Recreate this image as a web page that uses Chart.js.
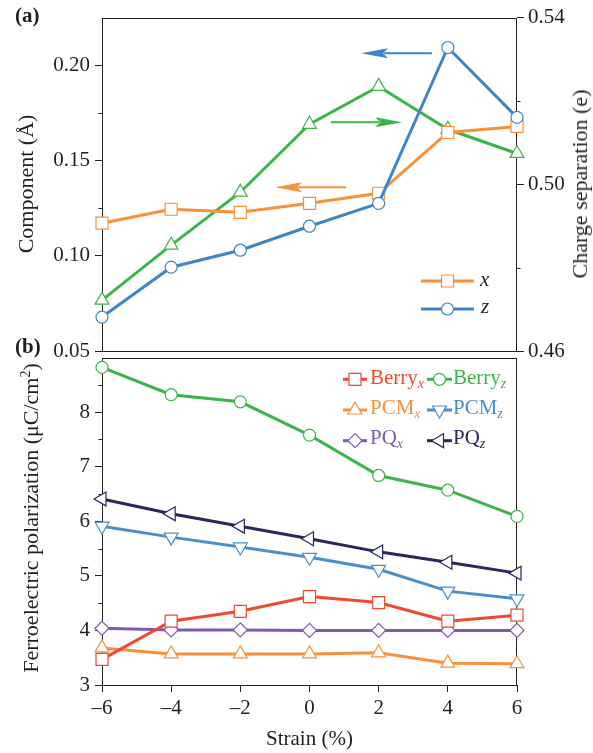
<!DOCTYPE html>
<html><head><meta charset="utf-8">
<script src="https://cdn.jsdelivr.net/npm/chart.js@4/dist/chart.umd.min.js"></script>
<style>
html,body{margin:0;padding:0;background:#fff;}
#wrap{position:relative;width:593px;height:753px;overflow:hidden;font-family:"Liberation Serif","Times New Roman",serif;color:#231f20;}
canvas{position:absolute;left:0;}
.t{position:absolute;white-space:nowrap;line-height:1;}
.rot{transform:translate(-50%,-50%) rotate(-90deg);}
.sub{font-style:italic;font-size:14px;position:relative;top:4px;}
.sup{font-size:14px;position:relative;top:-8px;}
</style></head>
<body><div id="wrap">
<canvas id="ca" width="593" height="380" style="top:0"></canvas>
<canvas id="cb" width="593" height="413" style="top:340px"></canvas>

<div class="t" style="left:15px;top:5px;font-weight:bold;font-size:21px">(a)</div>
<div class="t" style="left:15px;top:336px;font-weight:bold;font-size:21px">(b)</div>
<div class="t rot" style="left:26px;top:184px;font-size:22px">Component (Å)</div>
<div class="t rot" style="left:580px;top:184px;font-size:22px">Charge separation (e)</div>
<div class="t rot" style="left:31px;top:518px;font-size:22px">Ferroelectric polarization (μC/cm<span class="sup">2</span>)</div>
<div class="t" style="left:309.5px;top:728px;font-size:21px;transform:translateX(-50%)">Strain (%)</div>

<div class="t" style="left:480px;top:269px;font-size:21px;font-style:italic">x</div>
<div class="t" style="left:481px;top:296px;font-size:21px;font-style:italic">z</div>

<div class="t" style="left:370px;top:367px;font-size:21px;color:#EF4A2F">Berry<span class="sub">x</span></div>
<div class="t" style="left:453px;top:367px;font-size:21px;color:#3BB54A">Berry<span class="sub">z</span></div>
<div class="t" style="left:370px;top:397px;font-size:21px;color:#F7923A">PCM<span class="sub">x</span></div>
<div class="t" style="left:453px;top:397px;font-size:21px;color:#4B8ECC">PCM<span class="sub">z</span></div>
<div class="t" style="left:370px;top:427px;font-size:21px;color:#7E5BB0">PQ<span class="sub">x</span></div>
<div class="t" style="left:453px;top:427px;font-size:21px;color:#26285E">PQ<span class="sub">z</span></div>
</div>
<script>
// ---------- data ----------
const strain = [-6, -4, -2, 0, 2, 4, 6];
const compX = [0.1171, 0.1244, 0.1228, 0.1275, 0.1328, 0.1647, 0.1679];
const compZ = [0.0678, 0.0940, 0.1029, 0.1155, 0.1275, 0.2093, 0.1726];
const chargeSep = [0.4722, 0.4854, 0.4981, 0.5144, 0.5235, 0.5132, 0.5074];
const berryX = [3.47, 4.17, 4.35, 4.62, 4.51, 4.17, 4.28];
const berryZ = [8.82, 8.32, 8.19, 7.58, 6.84, 6.57, 6.09];
const pcmX = [3.68, 3.57, 3.57, 3.57, 3.59, 3.40, 3.39];
const pcmZ = [5.91, 5.71, 5.53, 5.34, 5.12, 4.72, 4.58];
const pqX = [4.04, 4.01, 4.01, 4.00, 4.00, 4.00, 4.00];
const pqZ = [6.41, 6.14, 5.91, 5.68, 5.44, 5.25, 5.05];

const xTicks = [-6, -4, -2, 0, 2, 4, 6];
const compTicks = [0.05, 0.10, 0.15, 0.20];
const compMinor = [0.075, 0.125, 0.175];
const chargeTicks = [0.46, 0.50, 0.54];
const chargeMinor = [0.48, 0.52];
const polTicks = [3, 4, 5, 6, 7, 8];
const polMinor = [3.5, 4.5, 5.5, 6.5, 7.5, 8.5];

// ---------- style ----------
const FONT = "'Liberation Serif','Times New Roman',serif";
const INK = '#231f20';
const C = {orange:'#F7923A', blue:'#3D85C6', green:'#3BB54A', red:'#EF4A2F', purple:'#7E5BB0', navy:'#26285E', lblue:'#4B8ECC'};
const MK = {
  square:{style:'rect', r:8.5, rot:0},
  circle:{style:'circle', r:6, rot:0},
  up:{style:'triangle', r:8, rot:0},
  down:{style:'triangle', r:8, rot:180},
  left:{style:'triangle', r:8, rot:270},
  diamond:{style:'rectRot', r:7, rot:0}
};
Chart.defaults.font.family = FONT;
Chart.defaults.font.size = 21;
Chart.defaults.color = INK;

function ds(label, arr, color, mk, axis) {
  const m = MK[mk];
  return {
    label, data: strain.map((s, i) => ({x: s, y: arr[i]})),
    borderColor: color, backgroundColor: color, borderWidth: 3,
    pointStyle: m.style, pointRadius: m.r, pointRotation: m.rot,
    pointBackgroundColor: '#fff', pointBorderColor: color, pointBorderWidth: 1.2,
    pointHoverRadius: m.r, tension: 0, clip: false, yAxisID: axis || 'y'
  };
}

function drawMarker(ctx, mk, x, y, color) {
  const m = MK[mk], r = m.r;
  ctx.save();
  ctx.translate(x, y);
  ctx.rotate(m.rot * Math.PI / 180);
  ctx.beginPath();
  if (m.style === 'circle') ctx.arc(0, 0, r, 0, Math.PI * 2);
  else if (m.style === 'rect') { const s = r * Math.SQRT1_2; ctx.rect(-s, -s, 2 * s, 2 * s); }
  else if (m.style === 'rectRot') { ctx.moveTo(0, -r); ctx.lineTo(r, 0); ctx.lineTo(0, r); ctx.lineTo(-r, 0); ctx.closePath(); }
  else if (m.style === 'triangle') {
    for (let k = 0; k < 3; k++) { const a = k * 2 * Math.PI / 3; const px = Math.sin(a) * r, py = -Math.cos(a) * r; k ? ctx.lineTo(px, py) : ctx.moveTo(px, py); }
    ctx.closePath();
  }
  ctx.fillStyle = '#fff'; ctx.fill();
  ctx.lineWidth = 1.2; ctx.strokeStyle = color; ctx.stroke();
  ctx.restore();
}

const deco = {
  id: 'deco',
  beforeDatasetsDraw(chart, args, opts) {
    const ctx = chart.ctx, a = chart.chartArea;
    ctx.save();
    ctx.strokeStyle = INK; ctx.lineWidth = 1;
    ctx.strokeRect(Math.round(a.left) + 0.5, Math.round(a.top) + 0.5, Math.round(a.right - a.left) - 1, Math.round(a.bottom - a.top));
    (opts.minor || []).forEach(m => {
      const sc = chart.scales[m.axis];
      const left = m.side === 'left';
      const x0 = left ? Math.round(a.left) : Math.round(a.right) - 1;
      m.values.forEach(v => {
        const y = Math.round(sc.getPixelForValue(v)) + 0.5;
        ctx.beginPath(); ctx.moveTo(x0 + 0.5, y); ctx.lineTo(x0 + 0.5 + (left ? -4 : 4), y); ctx.stroke();
      });
    });
    ctx.restore();
  },
  afterDatasetsDraw(chart, args, opts) {
    const ctx = chart.ctx;
    ctx.save();
    (opts.arrows || []).forEach(ar => {
      const xs = chart.scales.x, ys = chart.scales[ar.axis];
      const x0 = xs.getPixelForValue(ar.from[0]), y0 = ys.getPixelForValue(ar.from[1]);
      const x1 = xs.getPixelForValue(ar.to[0]), y1 = ys.getPixelForValue(ar.to[1]);
      const len = Math.hypot(x1 - x0, y1 - y0), ux = (x1 - x0) / len, uy = (y1 - y0) / len;
      const hl = 27, hw = 5;
      const bx = x1 - ux * hl, by = y1 - uy * hl;
      ctx.strokeStyle = ar.color; ctx.fillStyle = ar.color; ctx.lineWidth = 2;
      ctx.beginPath(); ctx.moveTo(x0, y0); ctx.lineTo(bx + ux * 4, by + uy * 4); ctx.stroke();
      ctx.beginPath();
      ctx.moveTo(x1, y1);
      ctx.lineTo(bx - uy * hw, by + ux * hw);
      ctx.lineTo(bx + ux * 5, by + uy * 5);
      ctx.lineTo(bx + uy * hw, by - ux * hw);
      ctx.closePath(); ctx.fill();
    });
    (opts.legend || []).forEach(l => {
      ctx.strokeStyle = l.color; ctx.lineWidth = 3;
      ctx.beginPath(); ctx.moveTo(l.x0, l.y); ctx.lineTo(l.x1, l.y); ctx.stroke();
      drawMarker(ctx, l.mk, (l.x0 + l.x1) / 2, l.y, l.color);
    });
    ctx.restore();
  }
};

function fixTicks(values) { return scale => { scale.ticks = values.map(v => ({value: v})); }; }
const gridOpts = {display: true, drawOnChartArea: false, drawTicks: true, tickLength: 7, tickColor: INK, tickWidth: 1};

// ---------- top chart ----------
new Chart(document.getElementById('ca'), {
  type: 'line',
  data: {datasets: [
    ds('z', compZ, C.blue, 'circle', 'y'),
    ds('x', compX, C.orange, 'square', 'y'),
    ds('charge', chargeSep, C.green, 'up', 'y2')
  ]},
  options: {
    responsive: false, animation: false, devicePixelRatio: 1,
    layout: {padding: {top: 17, bottom: 29, left: 0, right: 0}},
    plugins: {
      legend: {display: false}, tooltip: {enabled: false},
      deco: {
        minor: [{axis: 'y', side: 'left', values: compMinor}, {axis: 'y2', side: 'right', values: chargeMinor}],
        arrows: [
          {from: [3.54, 0.2063], to: [1.49, 0.2063], axis: 'y', color: C.blue},
          {from: [0.62, 0.5149], to: [2.68, 0.5149], axis: 'y2', color: C.green},
          {from: [1.06, 0.1359], to: [-1.00, 0.1359], axis: 'y', color: C.orange}
        ],
        legend: [
          {x0: 421, x1: 474, y: 281, color: C.orange, mk: 'square'},
          {x0: 421, x1: 474, y: 309, color: C.blue, mk: 'circle'}
        ]
      }
    },
    scales: {
      x: {type: 'linear', min: -6, max: 6, display: false},
      y: {type: 'linear', position: 'left', min: 0.05, max: 0.225,
          afterBuildTicks: fixTicks(compTicks), afterFit: s => { s.width = 102; },
          grid: gridOpts, border: {display: false},
          ticks: {padding: 5, callback: v => v.toFixed(2)}},
      y2: {type: 'linear', position: 'right', min: 0.46, max: 0.54,
          afterBuildTicks: fixTicks(chargeTicks), afterFit: s => { s.width = 76; },
          grid: gridOpts, border: {display: false},
          ticks: {padding: 4, callback: v => v.toFixed(2)}}
    }
  },
  plugins: [deco]
});

// ---------- bottom chart ----------
new Chart(document.getElementById('cb'), {
  type: 'line',
  data: {datasets: [
    ds('Berry_x', berryX, C.red, 'square'),
    ds('PQ_x', pqX, C.purple, 'diamond'),
    ds('PCM_x', pcmX, C.orange, 'up'),
    ds('Berry_z', berryZ, C.green, 'circle'),
    ds('PCM_z', pcmZ, C.lblue, 'down'),
    ds('PQ_z', pqZ, C.navy, 'left')
  ]},
  options: {
    responsive: false, animation: false, devicePixelRatio: 1,
    layout: {padding: {top: 11, bottom: 23, left: 0, right: 76}},
    plugins: {
      legend: {display: false}, tooltip: {enabled: false},
      deco: {
        minor: [{axis: 'y', side: 'left', values: polMinor}],
        legend: [
          {x0: 343, x1: 367, y: 39.3, color: C.red, mk: 'square'},
          {x0: 427, x1: 452, y: 39.3, color: C.green, mk: 'circle'},
          {x0: 343, x1: 367, y: 70, color: C.orange, mk: 'up'},
          {x0: 427, x1: 452, y: 70, color: C.lblue, mk: 'down'},
          {x0: 343, x1: 367, y: 100.7, color: C.purple, mk: 'diamond'},
          {x0: 427, x1: 452, y: 100.7, color: C.navy, mk: 'left'}
        ]
      }
    },
    scales: {
      x: {type: 'linear', min: -6, max: 6, position: 'bottom',
          afterBuildTicks: fixTicks(xTicks), afterFit: s => { s.height = 45; },
          grid: gridOpts, border: {display: false},
          ticks: {padding: 4, maxRotation: 0, callback: v => v < 0 ? '\u2013' + Math.abs(v) : String(v)}},
      y: {type: 'linear', position: 'left', min: 3, max: 9,
          afterBuildTicks: fixTicks(polTicks), afterFit: s => { s.width = 102; },
          grid: gridOpts, border: {display: false},
          ticks: {padding: 5, callback: v => String(v)}}
    }
  },
  plugins: [deco]
});
</script>
</body></html>
